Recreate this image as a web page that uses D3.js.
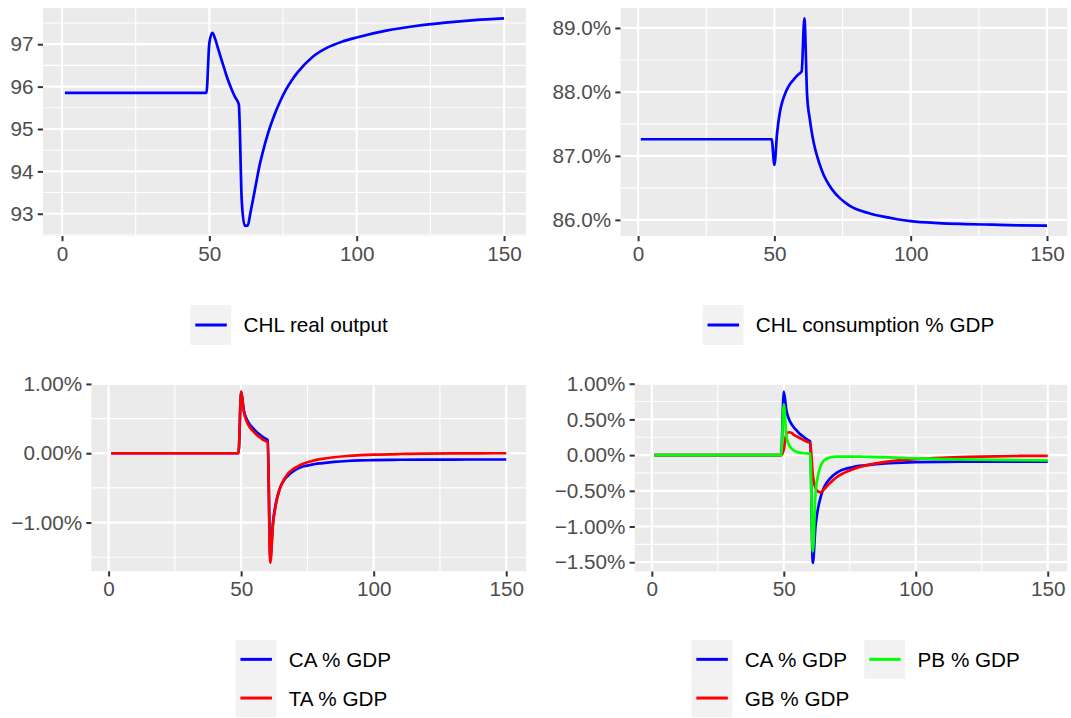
<!DOCTYPE html>
<html>
<head>
<meta charset="utf-8">
<script src="https://cdn.jsdelivr.net/npm/d3@7"></script>
<style>
  body { margin: 0; background: #fff; }
  svg { display: block; font-family: "Liberation Sans", Arial, Helvetica, sans-serif; }
</style>
</head>
<body>
<svg id="chart" width="1071" height="718"></svg>
<script>
// periods shared by all series (sampled denser where the paths move fast)
const periods = [1, 49, 50, 51, 52, 53, 54, 55, 56, 57, 58, 59, 60, 61, 62, 63, 64, 65, 66, 67, 68,
  70, 72, 74, 76, 78, 80, 85, 90, 95, 100, 110, 120, 130, 140, 150]

// CHL real output
const realOutput = [95.85, 95.85, 97.03, 97.27, 97.12, 96.89, 96.66, 96.44, 96.22, 96.03, 95.86, 95.72, 95.58,
  93.3, 92.72, 92.72, 93.05, 93.4, 93.77, 94.13, 94.42,
  94.92, 95.32, 95.65, 95.93, 96.15, 96.34, 96.7, 96.92, 97.06, 97.16, 97.32, 97.43, 97.51, 97.57, 97.61]

// CHL consumption, % of GDP
const consumption = [87.26, 87.26, 86.86, 87.36, 87.68, 87.86, 87.98, 88.07, 88.14, 88.19, 88.24, 88.28, 88.32,
  89.15, 87.95, 87.57, 87.3, 87.1, 86.95, 86.82, 86.71,
  86.55, 86.43, 86.34, 86.27, 86.21, 86.17, 86.1, 86.05, 86.01, 85.98, 85.95, 85.935, 85.925, 85.915, 85.91]

// balances, % of GDP
const caGdp = [0, 0, 0.89, 0.62, 0.50, 0.43, 0.38, 0.34, 0.30, 0.27, 0.24, 0.215, 0.19,
  -1.51, -1.0, -0.74, -0.58, -0.47, -0.40, -0.35, -0.31,
  -0.25, -0.21, -0.185, -0.17, -0.155, -0.145, -0.125, -0.112, -0.104, -0.099, -0.094, -0.092, -0.091, -0.09, -0.09]
const taGdp = [0, 0, 0.89, 0.60, 0.47, 0.39, 0.34, 0.30, 0.26, 0.23, 0.20, 0.18, 0.16,
  -1.58, -1.03, -0.76, -0.59, -0.47, -0.39, -0.33, -0.28,
  -0.22, -0.175, -0.145, -0.12, -0.10, -0.085, -0.058, -0.04, -0.028, -0.02, -0.011, -0.006, -0.003, -0.001, 0]
const gbGdp = [0, 0, 0.08, 0.30, 0.32, 0.31, 0.28, 0.26, 0.24, 0.22, 0.20, 0.185, 0.17,
  -0.28, -0.46, -0.51, -0.52, -0.49, -0.45, -0.41, -0.375,
  -0.31, -0.265, -0.23, -0.20, -0.175, -0.155, -0.115, -0.088, -0.07, -0.056, -0.037, -0.025, -0.017, -0.012, -0.01]
const pbGdp = [0, 0, 0.71, 0.27, 0.14, 0.09, 0.06, 0.045, 0.035, 0.03, 0.026, 0.023, 0.02,
  -1.35, -0.55, -0.28, -0.15, -0.085, -0.055, -0.04, -0.03,
  -0.022, -0.02, -0.02, -0.02, -0.021, -0.023, -0.028, -0.033, -0.039, -0.045, -0.055, -0.062, -0.068, -0.072, -0.075]

// ticks
const xTicks = [0, 50, 100, 150]
const yTicksOutput = [93, 94, 95, 96, 97]
const yTicksCons = [86, 87, 88, 89]
const yTicksTa = [-1, 0, 1]
const yTicksBal = [-1.5, -1, -0.5, 0, 0.5, 1]

const BLUE = '#0000ff', RED = '#ff0000', GREEN = '#00ff00'
const FONT = 20.7

const panels = [
  { box: [43, 8, 526, 236], yTicks: yTicksOutput, fmt: d3.format('d'),
    series: [{ label: 'CHL real output', values: realOutput, color: BLUE }],
    legendTop: 305, keyH: 40, ncol: 1 },
  { box: [620.5, 8, 1067.3, 236], yTicks: yTicksCons, fmt: d => d3.format('.1f')(d) + '%',
    series: [{ label: 'CHL consumption % GDP', values: consumption, color: BLUE }],
    legendTop: 305, keyH: 40, ncol: 1 },
  { box: [91.5, 383, 526, 571.3], yTicks: yTicksTa, fmt: d => d3.format('.2f')(d) + '%',
    series: [{ label: 'CA % GDP', values: caGdp, color: BLUE },
             { label: 'TA % GDP', values: taGdp, color: RED }],
    legendTop: 640, keyH: 38.7, ncol: 1 },
  { box: [634.8, 383, 1067.4, 571.5], yTicks: yTicksBal, fmt: d => d3.format('.2f')(d) + '%',
    series: [{ label: 'CA % GDP', values: caGdp, color: BLUE },
             { label: 'GB % GDP', values: gbGdp, color: RED },
             { label: 'PB % GDP', values: pbGdp, color: GREEN }],
    legendTop: 640, keyH: 38.7, ncol: 2 }
]

const svg = d3.select('#chart')

function expand(ext) {
  const r = ext[1] - ext[0]
  return [ext[0] - r * 0.05, ext[1] + r * 0.05]
}

// midpoints between major breaks (plus one step outside), kept inside the domain
function minorBreaks(ticks, domain) {
  const step = ticks[1] - ticks[0]
  const out = []
  for (let i = -1; i < ticks.length; i++) {
    const m = ticks[0] + step * (i + 0.5)
    if (m >= domain[0] && m <= domain[1]) out.push(m)
  }
  return out
}

function drawPanel(p) {
  const [x0, y0, x1, y1] = p.box
  const x = d3.scaleLinear().domain(expand(d3.extent(periods))).range([x0, x1])
  const y = d3.scaleLinear()
    .domain(expand(d3.extent(p.series.flatMap(s => s.values))))
    .range([y1, y0])

  const g = svg.append('g')
  g.append('rect')
    .attr('x', x0).attr('y', y0)
    .attr('width', x1 - x0).attr('height', y1 - y0)
    .attr('fill', '#ebebeb')

  const grid = g.append('g').attr('stroke', '#fff')
  grid.selectAll('.ymin').data(minorBreaks(p.yTicks, y.domain())).enter()
    .append('line').attr('x1', x0).attr('x2', x1)
    .attr('y1', d => y(d)).attr('y2', d => y(d)).attr('stroke-width', 1.1)
  grid.selectAll('.xmin').data(minorBreaks(xTicks, x.domain())).enter()
    .append('line').attr('y1', y0).attr('y2', y1)
    .attr('x1', d => x(d)).attr('x2', d => x(d)).attr('stroke-width', 1.1)
  grid.selectAll('.ymaj').data(p.yTicks).enter()
    .append('line').attr('x1', x0).attr('x2', x1)
    .attr('y1', d => y(d)).attr('y2', d => y(d)).attr('stroke-width', 2.2)
  grid.selectAll('.xmaj').data(xTicks).enter()
    .append('line').attr('y1', y0).attr('y2', y1)
    .attr('x1', d => x(d)).attr('x2', d => x(d)).attr('stroke-width', 2.2)

  const line = d3.line()
    .x((d, i) => x(periods[i]))
    .y(d => y(d))
    .curve(d3.curveMonotoneX)
  p.series.forEach(s => {
    g.append('path')
      .attr('d', line(s.values))
      .attr('fill', 'none')
      .attr('stroke', s.color)
      .attr('stroke-width', 2.7)
      .attr('stroke-linejoin', 'round')
  })

  const xAxis = g.append('g')
    .attr('transform', `translate(0,${y1})`)
    .call(d3.axisBottom(x).tickValues(xTicks).tickSize(5.2).tickPadding(5))
  const yAxis = g.append('g')
    .attr('transform', `translate(${x0},0)`)
    .call(d3.axisLeft(y).tickValues(p.yTicks).tickFormat(p.fmt).tickSize(5.2).tickPadding(4.2))
  ;[xAxis, yAxis].forEach(ax => {
    ax.select('.domain').remove()
    ax.selectAll('.tick line').attr('stroke', '#333333').attr('stroke-width', 2)
    ax.selectAll('.tick text')
      .attr('fill', '#4d4d4d')
      .style('font-size', FONT + 'px')
      .style('font-family', '"Liberation Sans", Arial, Helvetica, sans-serif')
  })

  drawLegend(p, (x0 + x1) / 2 + 4.5)
}

function drawLegend(p, center) {
  const keyW = 41, gap = 12.3, colGap = 15
  const nrow = Math.ceil(p.series.length / p.ncol)
  const g = svg.append('g')
  const items = p.series.map((s, i) => ({ s, col: Math.floor(i / nrow), row: i % nrow }))

  // measure label widths
  const texts = items.map(it => g.append('text')
    .text(it.s.label)
    .style('font-size', FONT + 'px')
    .attr('fill', '#000'))
  const colW = d3.range(p.ncol).map(c =>
    d3.max(items.map((it, i) => it.col === c ? texts[i].node().getComputedTextLength() : 0)))
  const total = d3.sum(colW) + p.ncol * (keyW + gap) + (p.ncol - 1) * colGap
  const colX = []
  let cx = center - total / 2
  colW.forEach(w => { colX.push(cx); cx += keyW + gap + w + colGap })

  items.forEach((it, i) => {
    const kx = colX[it.col]
    const ky = p.legendTop + it.row * p.keyH
    g.insert('rect', 'text')
      .attr('x', kx).attr('y', ky)
      .attr('width', keyW).attr('height', p.keyH)
      .attr('fill', '#f2f2f2')
    g.append('line')
      .attr('x1', kx + 5).attr('x2', kx + keyW - 4.5)
      .attr('y1', ky + p.keyH / 2).attr('y2', ky + p.keyH / 2)
      .attr('stroke', it.s.color).attr('stroke-width', 3)
    texts[i]
      .attr('x', kx + keyW + gap)
      .attr('y', ky + p.keyH / 2)
      .attr('dy', '0.36em')
  })
}

panels.forEach(drawPanel)
</script>
</body>
</html>
